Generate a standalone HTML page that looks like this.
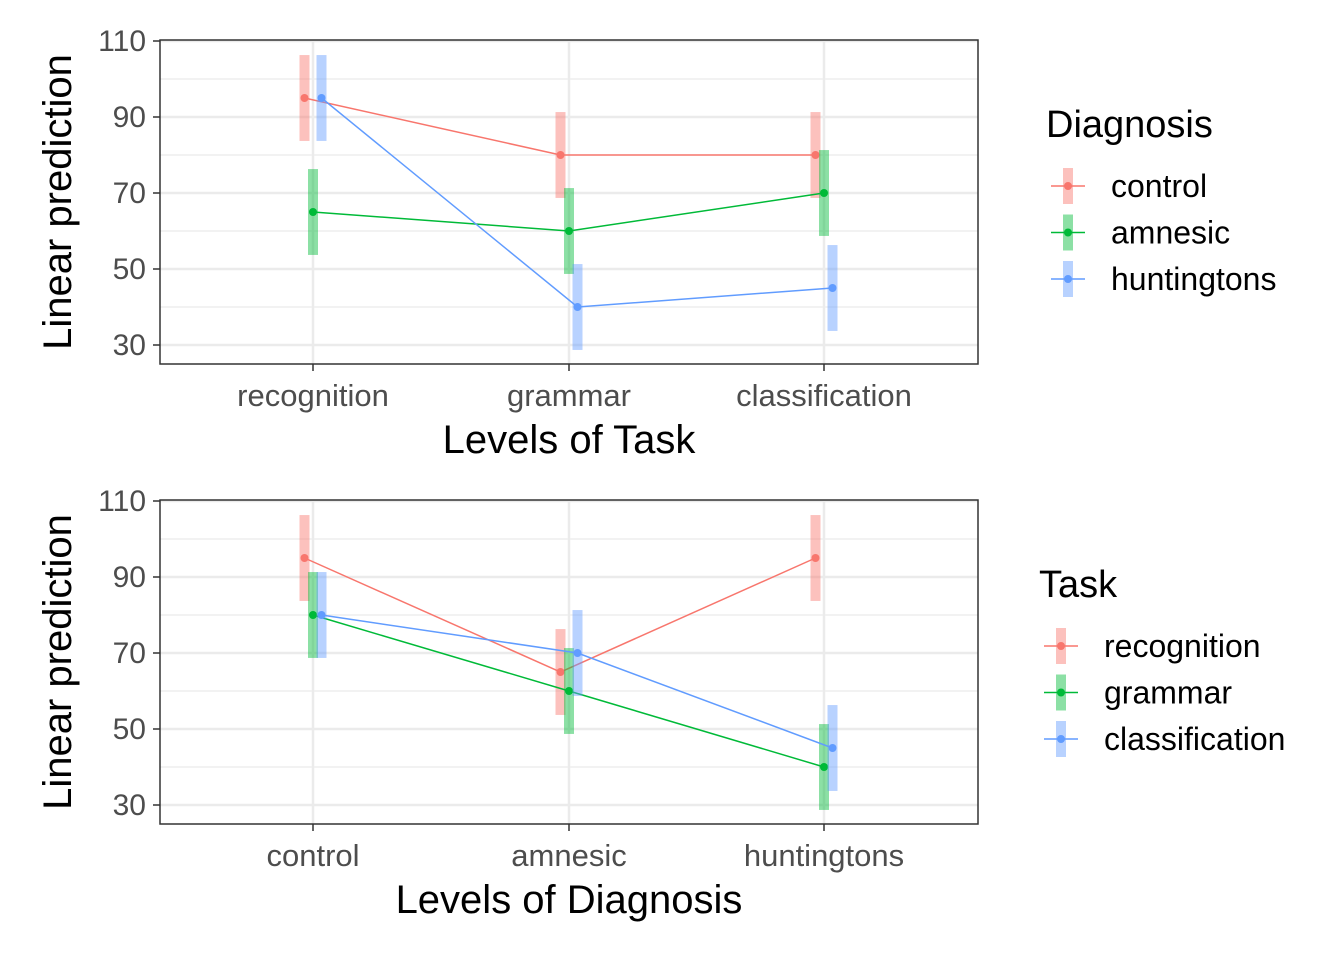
<!DOCTYPE html>
<html><head><meta charset="utf-8"><style>
body{margin:0;background:#fff;font-family:"Liberation Sans",Arial,sans-serif}
</style></head><body>
<svg id="s" width="1344" height="960" xmlns="http://www.w3.org/2000/svg"></svg>
<script>
const colors=["#F8766D","#00BA38","#619CFF"];
const yTicks=[30,50,70,90,110];
const ci=11.3;
const p1Cats=["recognition","grammar","classification"];
const p1Groups=["control","amnesic","huntingtons"];
const p1Control=[95,80,80];
const p1Amnesic=[65,60,70];
const p1Hunt=[95,40,45];
const p2Cats=["control","amnesic","huntingtons"];
const p2Groups=["recognition","grammar","classification"];
const p2Recog=[95,65,95];
const p2Gram=[80,60,40];
const p2Class=[80,70,45];
const NS="http://www.w3.org/2000/svg";
const svg=document.getElementById('s');
function el(t,a,parent){const e=document.createElementNS(NS,t);for(const k in a)e.setAttribute(k,a[k]);(parent||svg).appendChild(e);return e;}
const catX=[313,569,824],dodge=[-8.5,0,8.5];
function panel(top,cats,groups,series,xTitle,legTitle,legX,legTop,name){
  const g=el('g',{});
  
  
  const y=v=>top+305-(v-30)*3.8;
  for(let v=40;v<=100;v+=20){const l=el('line',{x1:160,x2:978,y1:y(v),y2:y(v),stroke:'#EBEBEB','stroke-width':1.2},g);}
  yTicks.forEach(v=>{const l=el('line',{x1:160,x2:978,y1:y(v),y2:y(v),stroke:'#EBEBEB','stroke-width':2.5},g);
    el('line',{x1:153,x2:160,y1:y(v),y2:y(v),stroke:'#333','stroke-width':1.5},g);
    const t=el('text',{x:146,y:y(v)+10,'text-anchor':'end','font-size':30,fill:'#4D4D4D'},g);t.textContent=v;
    });
  cats.forEach((c,i)=>{el('line',{x1:catX[i],x2:catX[i],y1:top,y2:top+324,stroke:'#EBEBEB','stroke-width':2.5},g);
    el('line',{x1:catX[i],x2:catX[i],y1:top+324,y2:top+331,stroke:'#333','stroke-width':1.5},g);
    const t=el('text',{x:catX[i],y:top+366,'text-anchor':'middle','font-size':31,fill:'#4D4D4D'},g);t.textContent=c;
    });
  series.forEach((vals,si)=>{
    const pts=vals.map((v,i)=>[catX[i]+dodge[si],y(v)]);
    vals.forEach((v,i)=>{const r=el('rect',{x:pts[i][0]-5,y:y(v+ci),width:10,height:y(v-ci)-y(v+ci),fill:colors[si],opacity:0.45},g);
      });
    const pl=el('polyline',{points:pts.map(p=>p.join(',')).join(' '),fill:'none',stroke:colors[si],'stroke-width':1.5},g);
    
    pts.forEach(p=>{const c=el('circle',{cx:p[0],cy:p[1],r:4,fill:colors[si]},g);});
  });
  el('rect',{x:160,y:top,width:818,height:324,fill:'none',stroke:'#333','stroke-width':1.5},g);
  const xt=el('text',{x:569,y:top+413,'text-anchor':'middle','font-size':40,fill:'#000'},g);xt.textContent=xTitle;
  
  const yt=el('text',{x:0,y:0,transform:`translate(71,${top+162}) rotate(-90)`,'text-anchor':'middle','font-size':40,fill:'#000'},g);yt.textContent='Linear prediction';
  
  const lt=el('text',{x:legX-22,y:legTop,'font-size':38,fill:'#000'},g);lt.textContent=legTitle;
  
  groups.forEach((gname,i)=>{const cy=legTop+49+i*46.5;
    const lg=el('g',{},g);
    el('rect',{x:legX-5,y:cy-18,width:10,height:36,fill:colors[i],opacity:0.45},lg);
    el('line',{x1:legX-17,x2:legX+17,y1:cy,y2:cy,stroke:colors[i],'stroke-width':1.5},lg);
    el('circle',{cx:legX,cy:cy,r:4,fill:colors[i]},lg);
    const t=el('text',{x:legX+43,y:cy+11,'font-size':32,fill:'#000'},lg);t.textContent=gname;});
}
panel(40,p1Cats,p1Groups,[p1Control,p1Amnesic,p1Hunt],'Levels of Task','Diagnosis',1068,137,'panel-task');
panel(500,p2Cats,p2Groups,[p2Recog,p2Gram,p2Class],'Levels of Diagnosis','Task',1061,597,'panel-diagnosis');
</script>
</body></html>
